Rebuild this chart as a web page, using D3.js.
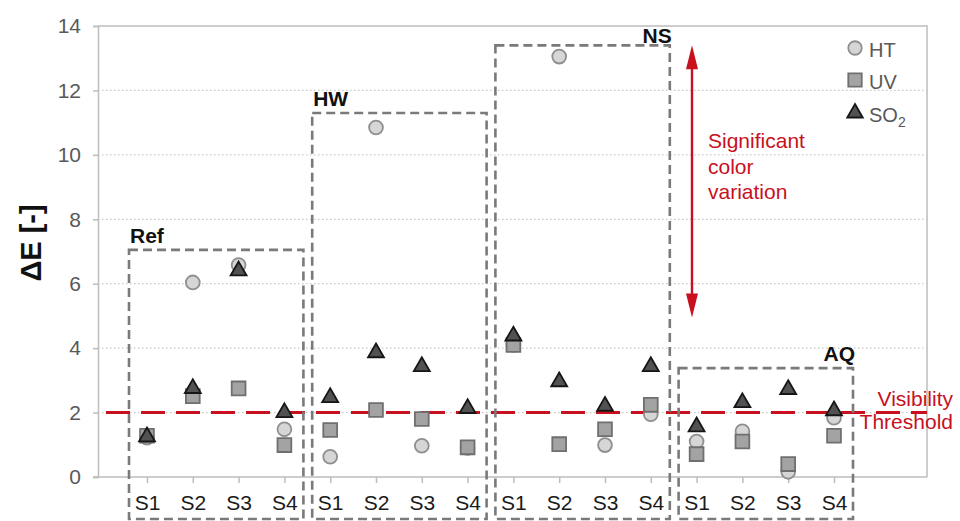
<!DOCTYPE html>
<html>
<head>
<meta charset="utf-8">
<script src="https://cdn.jsdelivr.net/npm/d3@7"></script>
<style>
  html, body { margin: 0; padding: 0; background: #fff; }
  svg { display: block; font-family: "Liberation Sans", Arial, Helvetica, sans-serif; }
</style>
</head>
<body>
<svg id="chart" width="960" height="521"></svg>
<script>
// Treatment groups and samples along the x axis
const groups = ["Ref", "HW", "NS", "AQ"];
const samples = ["S1", "S2", "S3", "S4"];

// ΔE per sample, in group order (Ref S1..S4, HW S1..S4, NS S1..S4, AQ S1..S4)
const htValues  = [1.22, 6.04, 6.58, 1.48, 0.63, 10.85, 0.97, 0.90, 4.10, 13.05, 0.99, 1.95, 1.10, 1.42, 0.16, 1.84];
const uvValues  = [1.28, 2.51, 2.75, 0.99, 1.46, 2.08, 1.80, 0.92, 4.10, 1.02, 1.48, 2.24, 0.71, 1.10, 0.40, 1.28];
const so2Values = [1.25, 2.75, 6.40, 2.00, 2.47, 3.86, 3.43, 2.13, 4.38, 2.96, 2.20, 3.43, 1.56, 2.31, 2.72, 2.06];

// Height of the dashed frame around each group (in ΔE units)
const groupFrameTops = [7.05, 11.3, 13.4, 3.38];

const yTicks = [0, 2, 4, 6, 8, 10, 12, 14];
const visibilityThreshold = 2;
const significantRange = [13.4, 4.95];

const series = [
  { name: "HT",  values: htValues,  symbol: d3.symbolCircle,   size: 150, fill: "#d6d6d6", stroke: "#8f8f8f" },
  { name: "UV",  values: uvValues,  symbol: d3.symbolSquare,   size: 190, fill: "#a3a3a3", stroke: "#6f6f6f" },
  { name: "SO2", values: so2Values, symbol: d3.symbolTriangle, size: 110, fill: "#525252", stroke: "#161616" }
];

const svg = d3.select("#chart");
const plot = { left: 98, right: 927, top: 26, bottom: 477 };

const categories = groups.flatMap(g => samples.map(s => g + "-" + s));
const x = d3.scalePoint().domain(categories).range([147, 834]);
const y = d3.scaleLinear().domain([0, 14]).range([plot.bottom, plot.top]);

const red = "#c8101e";
const axisGray = "#bdbdbd";

// Dotted gridlines
svg.append("g")
  .selectAll("line")
  .data(yTicks.filter(t => t > 0 && t < 14))
  .join("line")
  .attr("x1", plot.left).attr("x2", plot.right)
  .attr("y1", d => y(d)).attr("y2", d => y(d))
  .attr("stroke", "#c9c9c9").attr("stroke-width", 1.2)
  .attr("stroke-dasharray", "1.5,2.5");

// Plot frame: top and right edges
svg.append("path")
  .attr("d", `M${plot.left},${y(14)}H${plot.right}V${plot.bottom}`)
  .attr("fill", "none").attr("stroke", axisGray).attr("stroke-width", 1.5);

// Y axis
const yAxis = svg.append("g")
  .attr("transform", `translate(${plot.left},0)`)
  .call(d3.axisLeft(y).tickValues(yTicks).tickSize(5).tickPadding(12).tickFormat(d3.format("d")));
yAxis.select(".domain").attr("stroke", axisGray).attr("stroke-width", 1.5);
yAxis.selectAll(".tick line").attr("stroke", axisGray).attr("stroke-width", 1.5);
yAxis.selectAll(".tick text")
  .attr("fill", "#595959").attr("font-size", 21)
  .attr("font-family", "Liberation Sans, Arial, sans-serif");

// X axis
const xAxis = svg.append("g")
  .attr("transform", `translate(0,${plot.bottom})`)
  .call(d3.axisBottom(x).tickSize(6).tickPadding(12).tickFormat(d => d.split("-")[1]));
xAxis.select(".domain").remove();
xAxis.append("line")
  .attr("x1", plot.left - 5).attr("x2", plot.right)
  .attr("stroke", axisGray).attr("stroke-width", 1.5);
xAxis.selectAll(".tick line").attr("stroke", axisGray).attr("stroke-width", 1.5);
xAxis.selectAll(".tick text")
  .attr("fill", "#1a1a1a").attr("font-size", 21)
  .attr("font-family", "Liberation Sans, Arial, sans-serif");

// Y axis title
svg.append("text")
  .attr("transform", "translate(41,243) rotate(-90)")
  .attr("text-anchor", "middle")
  .attr("font-size", 29).attr("font-weight", "bold").attr("fill", "#111")
  .text("ΔE [-]");

// Visibility threshold
svg.append("line")
  .attr("x1", 106).attr("x2", plot.right)
  .attr("y1", y(visibilityThreshold)).attr("y2", y(visibilityThreshold))
  .attr("stroke", red).attr("stroke-width", 3)
  .attr("stroke-dasharray", "24,11");

// Dashed group frames with their labels
groups.forEach((g, i) => {
  const first = x(g + "-" + samples[0]);
  const last = x(g + "-" + samples[samples.length - 1]);
  const left = first - 18, right = last + 19, top = y(groupFrameTops[i]);
  svg.append("rect")
    .attr("x", left).attr("y", top)
    .attr("width", right - left).attr("height", 519 - top)
    .attr("fill", "none").attr("stroke", "#7a7a7a").attr("stroke-width", 2.6)
    .attr("stroke-dasharray", "9,5");
  const anchorRight = i >= 2;
  svg.append("text")
    .attr("x", anchorRight ? right + 2 : left + 1)
    .attr("y", anchorRight && i === 2 ? top - 2 : top - 7)
    .attr("text-anchor", anchorRight ? "end" : "start")
    .attr("font-size", 21).attr("font-weight", "bold").attr("fill", "#111")
    .text(g);
});

// Significant color variation arrow
const arrowX = 692;
const headLen = 24, headHalf = 6;
const yTop = y(significantRange[0]), yBot = y(significantRange[1]);
svg.append("line")
  .attr("x1", arrowX).attr("x2", arrowX)
  .attr("y1", yTop + headLen - 2).attr("y2", yBot - headLen + 2)
  .attr("stroke", red).attr("stroke-width", 2.4);
svg.append("path")
  .attr("d", `M${arrowX},${yTop}L${arrowX - headHalf},${yTop + headLen}L${arrowX + headHalf},${yTop + headLen}Z`)
  .attr("fill", red);
svg.append("path")
  .attr("d", `M${arrowX},${yBot}L${arrowX - headHalf},${yBot - headLen}L${arrowX + headHalf},${yBot - headLen}Z`)
  .attr("fill", red);

svg.append("text")
  .attr("x", 708).attr("y", 148)
  .attr("font-size", 21).attr("fill", red)
  .selectAll("tspan")
  .data(["Significant", "color", "variation"])
  .join("tspan")
  .attr("x", 708)
  .attr("dy", (d, i) => i === 0 ? 0 : 25.5)
  .text(d => d);

svg.append("text")
  .attr("x", 953).attr("y", 406)
  .attr("text-anchor", "end")
  .attr("font-size", 21).attr("fill", red)
  .selectAll("tspan")
  .data(["Visibility", "Threshold"])
  .join("tspan")
  .attr("x", 953)
  .attr("dy", (d, i) => i === 0 ? 0 : 22.5)
  .text(d => d);

// Data points
series.forEach(s => {
  svg.append("g")
    .selectAll("path")
    .data(s.values)
    .join("path")
    .attr("transform", (v, i) => `translate(${x(categories[i])},${y(v)})`)
    .attr("d", d3.symbol().type(s.symbol).size(s.size))
    .attr("fill", s.fill).attr("stroke", s.stroke).attr("stroke-width", 1.8);
});

// Legend
const legend = svg.append("g");
const legendRows = [48, 80, 113];
series.forEach((s, i) => {
  legend.append("path")
    .attr("transform", `translate(855,${legendRows[i]})`)
    .attr("d", d3.symbol().type(s.symbol).size(s.size * 0.95))
    .attr("fill", s.fill).attr("stroke", s.stroke).attr("stroke-width", 1.8);
  const t = legend.append("text")
    .attr("x", 869).attr("y", legendRows[i] + 9)
    .attr("font-size", 20).attr("fill", "#595959");
  if (s.name === "SO2") {
    t.append("tspan").text("SO");
    t.append("tspan").attr("font-size", 14).attr("dy", 5).text("2");
  } else {
    t.text(s.name);
  }
});
</script>
</body>
</html>
